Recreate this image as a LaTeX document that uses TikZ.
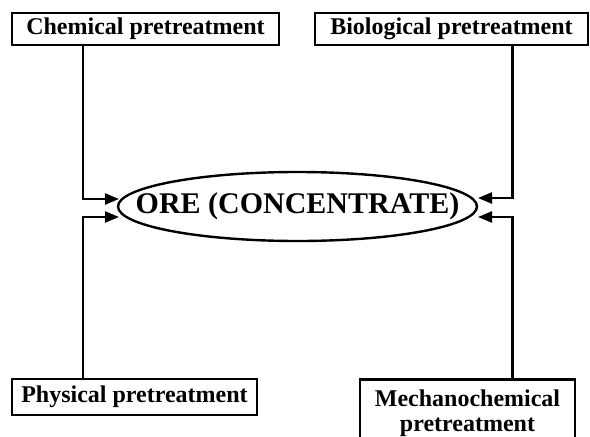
\documentclass[tikz,border=0pt]{standalone}
\usepackage{fontspec}
\setmainfont{Liberation Serif}
\usetikzlibrary{shapes.geometric,arrows.meta}
\begin{document}
\begin{tikzpicture}[x=1pt,y=-1pt,
  box/.style={draw, line width=2.6pt, inner sep=2pt, minimum height=32pt,
    font=\fontsize{24}{25}\selectfont\bfseries},
  link/.style={line width=2.4pt, -{Triangle[length=14pt,width=11pt]}}]
\useasboundingbox (0,0) rectangle (590,437);
\clip (0,0) rectangle (590,437);
\node[box, minimum width=267pt] (chem) at (145.5,29) {Chemical pretreatment};
\node[box, minimum width=273pt] (bio) at (451.5,29) {Biological pretreatment};
\node[box, minimum width=245pt, minimum height=36pt] (phys) at (134.5,397) {Physical pretreatment};
\node[box, anchor=north, text width=211pt, align=center, inner ysep=10.5pt] (mech) at (467.5,378) {Mechanochemical\\pretreatment};
\node[draw, ellipse, line width=2.4pt, minimum width=359pt, minimum height=69pt, inner sep=0pt,
  font=\fontsize{30}{36}\selectfont\bfseries] (ore) at (297.5,206.5) {\makebox[0pt]{ORE (CONCENTRATE)}};
\coordinate (xl) at (83,0);
\coordinate (xr) at (512.5,0);
\coordinate (t1) at (119,199);
\coordinate (t2) at (478,198);
\coordinate (t3) at (119,217);
\coordinate (t4) at (478,217);
\draw[link] (chem.south -| xl) |- (t1);
\draw[link] (bio.south -| xr) |- (t2);
\draw[link] (phys.north -| xl) |- (t3);
\draw[link] (mech.north -| xr) |- (t4);
\end{tikzpicture}
\end{document}
